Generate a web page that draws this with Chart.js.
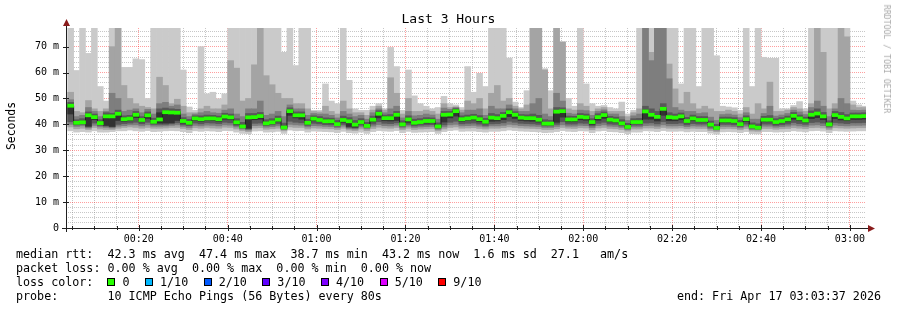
<!DOCTYPE html>
<html>
<head>
<meta charset="utf-8">
<title>Last 3 Hours</title>
<script src="https://cdn.jsdelivr.net/npm/chart.js@4.4.1/dist/chart.umd.min.js"></script>
<style>
  html, body { margin: 0; padding: 0; background: #fff; }
  #wrap { position: relative; width: 897px; height: 310px; overflow: hidden;
          font-family: 'DejaVu Sans Mono', monospace; color: #000; }
  #chart { position: absolute; left: 0; top: 0; }
  #title { position: absolute; left: 0; top: 12px; width: 897px; text-align: center;
           font-size: 13px; line-height: 14px; }
  #ylab { position: absolute; left: 11px; top: 126px; font-size: 11.4px; white-space: pre;
          transform: translate(-50%, -50%) rotate(-90deg); }
  #credit { position: absolute; left: 887px; top: 59px; font-size: 8.2px; color: #aaa; white-space: pre;
            transform: translate(-50%, -50%) rotate(90deg); }
  .lg { position: absolute; left: 16px; white-space: pre; font-size: 11.7px; line-height: 14px; }
  .box { display: inline-block; width: 6px; height: 6px; border: 1px solid #000; margin-right: 7px;
         position: relative; top: 0px; }
  .ent { margin-right: 15.5px; }
</style>
</head>
<body>
<div id="wrap">
  <canvas id="chart" width="897" height="310"></canvas>
  <div id="title">Last 3 Hours</div>
  <div id="ylab">Seconds</div>
  <div id="credit">RRDTOOL / TOBI OETIKER</div>
  <div class="lg" id="l1" style="top:247px"></div>
  <div class="lg" id="l2" style="top:261px"></div>
  <div class="lg" id="l3" style="top:275px"></div>
  <div class="lg" id="l4" style="top:289px"></div>
  <div class="lg" id="lend" style="top:289px;left:auto;right:16px"></div>
</div>
<script>
// ---- data: one column per 80 s probe round, 10 pings sorted (ms) ----
const median = [47.2, 40.6, 40.8, 43.5, 42.8, 40.5, 43.1, 43.1, 44.1, 42.0,
  42.2, 43.7, 41.7, 43.5, 41.0, 41.9, 44.7, 44.6, 44.5, 41.3,
  40.6, 42.3, 42.0, 42.3, 42.3, 42.0, 43.0, 42.7, 40.8, 39.2,
  42.7, 42.8, 43.2, 40.4, 40.8, 41.8, 38.8, 45.1, 43.5, 43.5,
  40.6, 42.2, 41.7, 41.2, 41.2, 40.1, 41.7, 41.2, 39.9, 40.9,
  39.4, 41.8, 44.1, 42.4, 42.4, 43.7, 40.0, 41.9, 40.6, 40.9,
  41.3, 41.3, 39.2, 43.7, 43.8, 45.1, 42.0, 42.3, 42.6, 42.0,
  41.0, 42.6, 42.4, 43.3, 44.7, 43.7, 42.6, 42.4, 42.4, 41.8,
  40.3, 40.3, 44.9, 45.1, 41.9, 41.9, 42.9, 42.7, 40.9, 42.8,
  43.6, 41.8, 41.5, 40.4, 39.0, 40.9, 40.9, 45.0, 43.7, 42.9,
  46.0, 42.8, 42.6, 43.1, 41.3, 42.3, 41.7, 41.7, 39.9, 38.6,
  41.5, 41.5, 41.3, 40.1, 42.0, 39.2, 38.7, 41.8, 41.8, 40.9,
  41.3, 41.9, 43.3, 42.3, 41.5, 43.7, 44.2, 43.1, 40.0, 43.6,
  42.9, 42.3, 43.1, 43.1, 43.2];

const ping10 = [80, 60.8, 80, 67.4, 80, 54.6, 49, 80, 80, 62,
  62, 65.3, 65, 50, 80, 80, 80, 80, 80, 61,
  46.7, 45.4, 70, 51.8, 52.4, 49.9, 51.8, 80, 80, 80,
  80, 80, 80, 80, 80, 80, 67.8, 80, 62.7, 80,
  80, 45.4, 45.4, 55.6, 49, 48, 80, 57, 46, 45.4,
  45.4, 47, 48, 46, 69.7, 62.3, 45.4, 61, 51, 48,
  47, 46, 46.5, 50.8, 48, 47.5, 46.5, 62.3, 52.4, 59.7,
  54.6, 80, 80, 80, 65.6, 48.6, 46.5, 53, 80, 80,
  61.5, 53, 80, 72, 50, 47, 80, 55.6, 48, 47,
  47.3, 46.5, 46, 48.6, 44, 45.4, 80, 80, 80, 80,
  80, 80, 80, 55.6, 80, 80, 54.6, 80, 80, 66.5,
  47, 46.7, 46.4, 45.4, 80, 54.6, 80, 65.9, 65.5, 65.5,
  46, 46, 47.3, 48.8, 46, 80, 80, 80, 80, 80,
  80, 80, 49, 47.5, 47];

const ping9 = [52.4, 45, 44.5, 49.2, 46, 45, 46, 70, 80, 55,
  50, 48, 47, 46.5, 46, 58.2, 55, 48, 49.7, 47,
  44.5, 44.5, 46, 47, 46, 46, 47.5, 64.6, 61.7, 49,
  50, 63, 80, 58.8, 55.3, 52, 50, 50, 48, 48,
  46, 45, 44.8, 47, 45, 44, 49, 46, 44.5, 44.5,
  43.5, 45.5, 47, 45.5, 58, 52, 44, 50, 45, 45,
  45.5, 45, 44, 48, 46.5, 46.8, 45.5, 49, 48, 50,
  46, 52, 55, 49, 50, 47, 46, 47.5, 80, 80,
  61, 46, 80, 71.7, 46, 45.5, 48, 47, 45, 46,
  46.5, 45, 45, 45, 43, 44.5, 46, 80, 67.8, 80,
  80, 63.3, 53.7, 48, 52.4, 48, 46, 47, 46, 45,
  45, 45.5, 45, 44, 46.5, 44, 48, 46, 56.3, 45,
  45, 45.5, 46.5, 46, 45, 48, 80, 67.8, 46, 48,
  80, 73.8, 47.5, 46.5, 46.5];

const ping8 = [49.5, 43, 43.5, 46.5, 45, 43, 45, 52, 50, 45,
  45.5, 46, 44.5, 45.8, 44, 48, 48.5, 47, 47.5, 44,
  43, 44, 44.5, 45, 44.5, 44.3, 45.5, 46, 44, 43,
  46, 46, 49, 43.5, 44, 45, 43, 47.5, 46, 46,
  43.5, 44.2, 44, 44, 43.5, 42.5, 45, 44, 43, 43.5,
  42, 44.5, 46, 44.5, 46, 47, 42.5, 45, 43.3, 43.5,
  44, 43.6, 42, 46.3, 45.8, 46.5, 44.5, 45.5, 45.5, 46,
  43.5, 47, 46, 46, 47.5, 46, 45, 45, 48, 50,
  44, 43, 52, 49, 44.3, 44, 45.5, 45.3, 43.5, 45,
  45.6, 44, 44, 43, 41.5, 43.3, 44, 80, 64.6, 80,
  80, 57.6, 46.5, 45.5, 45, 45, 44.2, 44.5, 42.8, 41.5,
  43.8, 44, 43.6, 42.6, 44.5, 42, 42, 44.2, 47, 43.2,
  43.6, 44.2, 45.5, 44.8, 43.8, 46.5, 49, 47, 43, 46,
  50, 48, 45.5, 45.4, 45.5];

const ping7 = [48.5, 41.8, 42.2, 44.8, 44, 41.8, 44.5, 44.3, 45.5, 43.3,
  43.5, 45, 43, 44.8, 42.4, 46, 46.3, 46, 45.8, 42.6,
  41.9, 43.3, 43.3, 43.6, 43.5, 43.2, 44.3, 44, 42.2, 40.8,
  44.2, 44.2, 44.6, 41.8, 42.2, 43.2, 40.5, 46.4, 44.8, 44.8,
  42, 43.3, 43, 42.5, 42.4, 41.5, 43.2, 42.6, 41.5, 42.2,
  40.8, 43.2, 45.3, 43.6, 43.8, 45, 41.4, 43.3, 42, 42.2,
  42.6, 42.5, 40.6, 45, 45, 46.1, 43.3, 43.6, 43.9, 43.4,
  42.3, 44.2, 43.8, 44.6, 46, 44.9, 43.8, 43.7, 44, 43.5,
  41.8, 41.6, 46.5, 46.4, 43.2, 43.1, 44.2, 44, 42.2, 44.1,
  44.8, 43.1, 42.8, 41.8, 40.4, 42.2, 42.3, 47, 46, 45,
  48, 44.5, 44, 44.4, 42.7, 43.6, 43, 43, 41.3, 40,
  42.8, 42.8, 42.6, 41.5, 43.3, 40.6, 40.2, 43.1, 43.4, 42.2,
  42.6, 43.2, 44.6, 43.6, 42.8, 45.2, 46, 44.6, 41.4, 45,
  44.6, 43.8, 44.4, 44.4, 44.5];

const ping6 = [47.8, 41, 41.3, 43.9, 43.3, 41, 43.6, 43.6, 44.6, 42.5,
  42.7, 44.2, 42.2, 44, 41.5, 44.5, 45.2, 45.1, 45, 41.8,
  41.1, 42.8, 42.5, 42.8, 42.8, 42.5, 43.5, 43.2, 41.3, 39.7,
  43.2, 43.3, 43.7, 40.9, 41.3, 42.3, 39.3, 45.6, 44, 44,
  41.1, 42.7, 42.2, 41.7, 41.7, 40.6, 42.2, 41.7, 40.4, 41.4,
  39.9, 42.3, 44.6, 42.9, 42.9, 44.2, 40.5, 42.4, 41.1, 41.4,
  41.8, 41.8, 39.7, 44.2, 44.3, 45.6, 42.5, 42.8, 43.1, 42.5,
  41.5, 43.1, 42.9, 43.8, 45.2, 44.2, 43.1, 42.9, 42.9, 42.3,
  40.8, 40.8, 45.4, 45.6, 42.4, 42.4, 43.4, 43.2, 41.4, 43.3,
  44.1, 42.3, 42, 40.9, 39.5, 41.4, 41.4, 45.5, 44.2, 43.4,
  46.5, 43.3, 43.1, 43.6, 41.8, 42.8, 42.2, 42.2, 40.4, 39.1,
  42, 42, 41.8, 40.6, 42.5, 39.7, 39.2, 42.3, 42.3, 41.4,
  41.8, 42.4, 43.8, 42.8, 42, 44.2, 44.7, 43.6, 40.5, 44.1,
  43.4, 42.8, 43.6, 43.6, 43.7];

const ping5 = [44, 40.1, 40.3, 39.3, 41.8, 40, 39.6, 39.2, 41.5, 41.2,
  41.4, 42.6, 41, 42.3, 40.5, 40.5, 40.5, 40.6, 41.5, 40.5,
  40, 41.5, 41.2, 41.6, 41.5, 41.2, 42, 41.8, 40.1, 38.9,
  38.5, 41.8, 42, 39.9, 40.3, 41, 38.5, 43.5, 42.5, 42,
  40.1, 41.4, 41, 40.6, 40.5, 39.7, 40.8, 39.2, 38.9, 40.3,
  39.1, 41, 42.5, 41.4, 41.3, 41.5, 39.6, 40.8, 39.9, 40.3,
  40.5, 40.6, 38.8, 40.9, 42.5, 43.2, 41.2, 41.5, 41.7, 41,
  40.3, 41.2, 41.3, 41.8, 43, 42.3, 41.5, 41.3, 41.2, 40.9,
  39.8, 39.9, 40.8, 42.8, 41, 41, 41.8, 41.6, 40, 41.6,
  42.3, 41, 40.8, 39.9, 38.7, 40.3, 40.3, 42, 42, 41.3,
  43.5, 41.4, 41.4, 41.8, 40.6, 41.4, 41, 41, 39.4, 38.3,
  40.8, 40.8, 40.6, 39.7, 41.1, 38.9, 38.4, 41, 41, 40.2,
  40.6, 41, 42, 41.4, 40.8, 42.2, 42.6, 41.8, 39.6, 42.2,
  41.7, 41.4, 41.9, 41.9, 42];

const ping4 = [41, 39.8, 40, 39, 40.5, 39.6, 39.3, 39, 40, 40.3,
  40.5, 40.8, 40.2, 40.8, 40, 40, 40, 40.2, 40.6, 39.8,
  39.5, 40.5, 40.2, 40.6, 40.5, 40.3, 40.8, 40.6, 39.6, 38.6,
  38.2, 40.4, 40.5, 39.5, 39.8, 40.2, 38.3, 41.2, 40.8, 40.6,
  39.6, 40.4, 40.2, 39.9, 39.8, 39.3, 40, 38.8, 38.6, 39.7,
  38.8, 40.1, 41, 40.4, 40.3, 40.6, 39.2, 40, 39.4, 39.7,
  39.8, 39.9, 38.5, 39.8, 40.8, 41.2, 40.2, 40.4, 40.5, 40.1,
  39.6, 40.2, 40.3, 40.6, 41.2, 40.8, 40.4, 40.3, 40.2, 40,
  39.4, 39.4, 40, 41, 40.1, 40.1, 40.5, 40.4, 39.4, 40.4,
  40.8, 40.1, 40, 39.4, 38.4, 39.7, 39.7, 40.5, 40.6, 40.2,
  41, 40.3, 40.3, 40.5, 39.8, 40.3, 40.1, 40.1, 38.9, 38.1,
  40, 40, 39.8, 39.2, 40.1, 38.5, 38.2, 40.1, 40.1, 39.6,
  39.8, 40.1, 40.7, 40.3, 40, 40.7, 40.9, 40.5, 39.2, 40.7,
  40.5, 40.3, 40.6, 40.6, 40.7];

const ping3 = [40, 39.2, 39.4, 38.6, 39.6, 39, 38.8, 38.6, 39.3, 39.5,
  39.8, 39.8, 39.4, 39.8, 39.3, 39.3, 39.4, 39.6, 39.8, 39.2,
  38.8, 39.6, 39.4, 39.7, 39.6, 39.4, 39.8, 39.7, 39, 38.2,
  37.8, 39.5, 39.6, 38.9, 39.1, 39.4, 38, 40, 39.8, 39.7,
  39, 39.5, 39.4, 39.2, 39.1, 38.7, 39.3, 38.4, 38.2, 39,
  38.3, 39.3, 39.9, 39.5, 39.4, 39.7, 38.6, 39.3, 38.8, 39,
  39.1, 39.2, 38.1, 39, 39.8, 40, 39.4, 39.5, 39.6, 39.3,
  39, 39.4, 39.4, 39.6, 40, 39.8, 39.5, 39.4, 39.3, 39.2,
  38.8, 38.8, 39.2, 39.8, 39.3, 39.3, 39.6, 39.5, 38.7, 39.5,
  39.8, 39.3, 39.2, 38.8, 38, 39, 39, 39.5, 39.6, 39.3,
  39.8, 39.4, 39.4, 39.5, 39.1, 39.4, 39.3, 39.3, 38.3, 37.8,
  39.2, 39.2, 39.1, 38.6, 39.3, 38, 37.9, 39.3, 39.3, 38.9,
  39.1, 39.3, 39.7, 39.4, 39.2, 39.7, 39.8, 39.5, 38.6, 39.7,
  39.5, 39.4, 39.6, 39.6, 39.7];

const ping2 = [39, 38.3, 38.5, 38, 38.8, 38.2, 38, 38, 38.5, 38.8,
  39, 38.8, 38.5, 38.8, 38.5, 38.5, 38.6, 38.8, 38.8, 38.4,
  38, 38.7, 38.5, 38.8, 38.6, 38.5, 38.9, 38.8, 38.2, 37.6,
  37.2, 38.6, 38.7, 38.1, 38.3, 38.5, 37.5, 39, 38.8, 38.8,
  38.2, 38.6, 38.5, 38.4, 38.3, 38, 38.5, 37.8, 37.6, 38.2,
  37.6, 38.4, 38.9, 38.6, 38.5, 38.8, 37.9, 38.5, 38, 38.2,
  38.3, 38.4, 37.5, 38.2, 38.8, 39, 38.5, 38.6, 38.7, 38.4,
  38.2, 38.5, 38.5, 38.7, 39, 38.8, 38.6, 38.5, 38.4, 38.3,
  38, 38, 38.3, 38.8, 38.5, 38.4, 38.7, 38.6, 37.9, 38.6,
  38.8, 38.4, 38.3, 38, 37.4, 38.2, 38.2, 38.6, 38.6, 38.4,
  38.8, 38.5, 38.5, 38.6, 38.3, 38.5, 38.4, 38.4, 37.6, 37.2,
  38.3, 38.4, 38.3, 37.9, 38.4, 37.4, 37.3, 38.4, 38.4, 38.1,
  38.3, 38.4, 38.7, 38.5, 38.3, 38.7, 38.8, 38.6, 37.9, 38.7,
  38.6, 38.5, 38.6, 38.7, 38.7];

const ping1 = [37.5, 37, 37.2, 37, 37.5, 37, 37, 37.2, 37.5, 37.5,
  37.8, 37.5, 37.3, 37.6, 37.2, 37.3, 37.5, 37.6, 37.5, 37.2,
  36.8, 37.5, 37.3, 37.5, 37.4, 37.2, 37.6, 37.5, 37, 36.5,
  36.4, 37.4, 37.5, 37, 37.1, 37.3, 36.5, 37.8, 37.5, 37.6,
  37, 37.4, 37.3, 37.2, 37.1, 36.8, 37.3, 36.8, 36.6, 37,
  36.5, 37.2, 37.6, 37.4, 37.3, 37.6, 36.8, 37.3, 36.9, 37,
  37.1, 37.2, 36.5, 37.2, 37.6, 37.8, 37.3, 37.4, 37.4, 37.2,
  37, 37.3, 37.3, 37.5, 37.8, 37.6, 37.4, 37.3, 37.2, 37.1,
  36.8, 36.9, 37.2, 37.6, 37.3, 37.2, 37.5, 37.4, 36.8, 37.4,
  37.6, 37.2, 37.1, 36.8, 36.4, 37, 37, 37.5, 37.4, 37.2,
  37.6, 37.3, 37.3, 37.4, 37.1, 37.3, 37.2, 37.2, 36.6, 36.2,
  37.1, 37.2, 37.1, 36.8, 37.2, 36.4, 36.3, 37.2, 37.2, 37,
  37.1, 37.2, 37.5, 37.3, 37.1, 37.5, 37.6, 37.4, 36.8, 37.5,
  37.4, 37.3, 37.4, 37.5, 37.5];

// time axis in seconds after midnight
const xLabels = ['00:20', '00:40', '01:00', '01:20', '01:40', '02:00', '02:20', '02:40', '03:00'];
const yLabels = ['0', '10 m', '20 m', '30 m', '40 m', '50 m', '60 m', '70 m'];
const firstSlot = 240;     // 00:04:00
const slotLen = 80;        // seconds per probe round
const viewStart = 217;     // 00:03:37
const viewEnd = 11017;     // 03:03:37
const yMax = 77.2;

const statsLine = 'median rtt:  42.3 ms avg  47.4 ms max  38.7 ms min  43.2 ms now  1.6 ms sd  27.1   am/s';
const lossLine = 'packet loss: 0.00 % avg  0.00 % max  0.00 % min  0.00 % now';
const lossLabels = ['0', '1/10', '2/10', '3/10', '4/10', '5/10', '9/10'];
const lossColors = ['#26ff00', '#00b8ff', '#0059ff', '#5e00ff', '#7e00ff', '#dd00ff', '#ff0000'];
const probeLine = 'probe:       10 ICMP Echo Pings (56 Bytes) every 80s';
const endLine = 'end: Fri Apr 17 03:03:37 2026';

// legend
document.getElementById('l1').textContent = statsLine;
document.getElementById('l2').textContent = lossLine;
document.getElementById('l4').textContent = probeLine;
document.getElementById('lend').textContent = endLine;
let l3 = 'loss color:  ';
lossLabels.forEach((lab, i) => {
    l3 += `<span class="ent"><span class="box" style="background:${lossColors[i]}"></span>${lab}</span>`;
});
document.getElementById('l3').innerHTML = l3;

const xs = median.map((_, i) => firstSlot + slotLen * i + slotLen / 2);

// smoke bands: outer pair lightest
const smoke = [
    [ping1, ping10, '#cacaca'],
    [ping2, ping9, '#a4a4a4'],
    [ping3, ping8, '#7e7e7e'],
    [ping4, ping7, '#585858'],
    [ping5, ping6, '#323232']
];

const datasets = smoke.map((b, k) => ({
    type: 'bar',
    data: xs.map((x, i) => ({ x: x, y: [b[0][i], b[1][i]] })),
    backgroundColor: b[2],
    borderWidth: 0,
    barPercentage: 1,
    categoryPercentage: 1,
    grouped: false,
    order: 10 - k
}));

datasets.push({
    type: 'line',
    data: xs.map((x, i) => ({ x: x, y: median[i] })),
    borderColor: '#202020',
    borderWidth: 1,
    stepped: 'middle',
    pointRadius: 0,
    order: 2
});

datasets.push({
    type: 'bar',
    data: xs.map((x, i) => ({ x: x, y: [median[i] - 0.6, median[i] + 0.6] })),
    backgroundColor: '#26ff00',
    borderWidth: 0,
    barPercentage: 1,
    categoryPercentage: 1,
    grouped: false,
    order: 1
});

// axis lines, ticks and arrows drawn rrdtool style
const rrdAxes = {
    id: 'rrdAxes',
    afterDraw(chart) {
        const { ctx, chartArea: a, scales: { x, y } } = chart;
        ctx.save();
        ctx.strokeStyle = '#202020';
        ctx.lineWidth = 1;
        ctx.beginPath();
        ctx.moveTo(62, a.bottom + 0.5);
        ctx.lineTo(a.right + 4, a.bottom + 0.5);
        ctx.moveTo(a.left + 0.5, a.bottom + 4);
        ctx.lineTo(a.left + 0.5, a.top - 3);
        for (let v = 10; v < yMax; v += 10) {
            const py = Math.round(y.getPixelForValue(v)) + 0.5;
            ctx.moveTo(a.left - 3, py);
            ctx.lineTo(a.left + 3, py);
        }
        for (let t = 300; t < viewEnd; t += 300) {
            const px = Math.round(x.getPixelForValue(t)) + 0.5;
            const len = t % 1200 === 0 ? 3 : 2;
            ctx.moveTo(px, a.bottom - len);
            ctx.lineTo(px, a.bottom + len);
        }
        ctx.stroke();
        ctx.fillStyle = '#8a1c1c';
        ctx.beginPath();
        ctx.moveTo(a.left + 0.5, a.top - 9);
        ctx.lineTo(a.left - 3, a.top - 2);
        ctx.lineTo(a.left + 4, a.top - 2);
        ctx.closePath();
        ctx.moveTo(a.right + 9, a.bottom + 0.5);
        ctx.lineTo(a.right + 2, a.bottom - 3);
        ctx.lineTo(a.right + 2, a.bottom + 4);
        ctx.closePath();
        ctx.fill();
        ctx.restore();
    }
};

const gridColor = major => major ? 'rgba(255,0,0,0.38)' : 'rgba(130,130,130,0.45)';

new Chart(document.getElementById('chart'), {
    type: 'bar',
    data: { datasets: datasets },
    plugins: [rrdAxes],
    options: {
        responsive: false,
        animation: false,
        devicePixelRatio: 1,
        events: [],
        layout: { padding: { left: 0, right: 31, top: 28, bottom: 0 } },
        plugins: { legend: { display: false }, tooltip: { enabled: false } },
        scales: {
            x: {
                type: 'linear',
                min: viewStart,
                max: viewEnd,
                offset: false,
                z: 1,
                afterBuildTicks: s => {
                    const t = [];
                    for (let v = 300; v < viewEnd; v += 300) t.push({ value: v });
                    s.ticks = t;
                },
                afterFit: s => { s.height = 82; },
                grid: {
                    offset: false,
                    drawTicks: false,
                    lineWidth: 1,
                    color: c => gridColor(c.tick && c.tick.value % 1200 === 0)
                },
                border: { display: false, dash: [1, 1] },
                ticks: {
                    autoSkip: false,
                    maxRotation: 0,
                    padding: 5,
                    color: '#000',
                    font: { family: 'DejaVu Sans Mono', size: 10 },
                    callback: v => v % 1200 === 0 ? xLabels[v / 1200 - 1] : ''
                }
            },
            y: {
                min: 0,
                max: yMax,
                z: 1,
                afterBuildTicks: s => {
                    const t = [];
                    for (let v = 0; v < yMax; v += 2) t.push({ value: v });
                    s.ticks = t;
                },
                afterFit: s => { s.width = 66; },
                grid: {
                    drawTicks: false,
                    lineWidth: 1,
                    color: c => gridColor(c.tick && c.tick.value % 10 === 0)
                },
                border: { display: false, dash: [1, 1] },
                ticks: {
                    autoSkip: false,
                    padding: 7,
                    color: '#000',
                    font: { family: 'DejaVu Sans Mono', size: 10 },
                    callback: v => v % 10 === 0 ? yLabels[v / 10] : ''
                }
            }
        }
    }
});
</script>
</body>
</html>
